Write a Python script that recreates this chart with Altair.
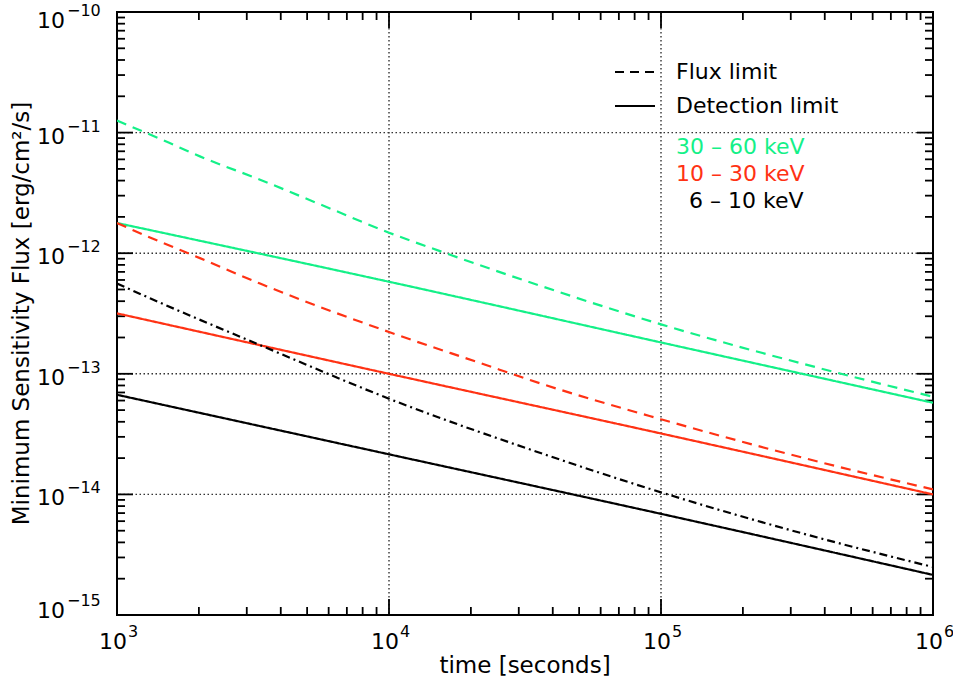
import altair as alt
import pandas as pd

# ---------------- data ----------------
# detection limits (straight lines in log-log)
t_det = [1e3, 1e4, 1e5, 1e6]
det_30_60 = [1.78e-12, 5.8e-13, 1.82e-13, 5.75e-14]
det_10_30 = [3.17e-13, 1.0e-13, 3.2e-14, 1.0e-14]
det_6_10 = [6.7e-14, 2.15e-14, 6.9e-15, 2.15e-15]

# flux limits (curved)
t_flux_30_60 = [1000, 1540, 2018, 3357, 6066, 10000, 15400, 35900, 100000, 385000, 1000000]
flux_30_60 = [1.26e-11, 8.3e-12, 6.35e-12, 4.07e-12, 2.35e-12, 1.48e-12, 1.04e-12, 5.38e-13, 2.57e-13, 1.11e-13, 6.45e-14]
t_flux_10_30 = [1000, 1322, 2018, 3357, 10000, 21600, 35900, 100000, 385000, 1000000]
flux_10_30 = [1.78e-12, 1.35e-12, 9.1e-13, 5.6e-13, 2.22e-13, 1.23e-13, 8.34e-14, 4.2e-14, 1.85e-14, 1.1e-14]
t_flux_6_10 = [1000, 1322, 3357, 10670, 34900, 100000, 385000, 1000000]
flux_6_10 = [5.6e-13, 4.23e-13, 1.73e-13, 5.87e-14, 2.26e-14, 1.04e-14, 4.33e-15, 2.5e-15]

band_labels = ["30 – 60 keV", "10 – 30 keV", "6 – 10 keV"]
legend_styles = ["Flux limit", "Detection limit"]

x_major = [1e3, 1e4, 1e5, 1e6]
x_minor = [k * 10 ** e for e in (3, 4, 5) for k in range(2, 10)]
y_major = [1e-15, 1e-14, 1e-13, 1e-12, 1e-11, 1e-10]
y_minor = [k * 10.0 ** e for e in (-15, -14, -13, -12, -11) for k in range(2, 10)]
x_exps = ["3", "4", "5", "6"]
y_exps = ["−15", "−14", "−13", "−12", "−11", "−10"]
x_grid = [1e4, 1e5]
y_grid = [1e-14, 1e-13, 1e-12, 1e-11]

x_title = "time [seconds]"
y_title = "Minimum Sensitivity Flux [erg/cm²/s]"

# ---------------- styling ----------------
FONT = "DejaVu Sans"
GREEN = "#14f088"
RED = "#ff3214"
BLACK = "#000000"
band_colors = [GREEN, RED, BLACK]
W, H = 816, 603

rows = []
series_defs = [
    ("d1", band_labels[0], "solid", t_det, det_30_60),
    ("d2", band_labels[1], "solid", t_det, det_10_30),
    ("d3", band_labels[2], "solid", t_det, det_6_10),
    ("f1", band_labels[0], "dash", t_flux_30_60, flux_30_60),
    ("f2", band_labels[1], "dash", t_flux_10_30, flux_10_30),
    ("f3", band_labels[2], "dashdot", t_flux_6_10, flux_6_10),
]
for sid, band, style, ts, vs in series_defs:
    for t, v in zip(ts, vs):
        rows.append({"t": t, "flux": v, "series": sid, "band": band, "style": style})
df = pd.DataFrame(rows)

xscale = alt.Scale(type="log", domain=[1e3, 1e6], nice=False)
yscale = alt.Scale(type="log", domain=[1e-15, 1e-10], nice=False)

lines = alt.Chart(df).mark_line(strokeWidth=2.2, clip=True, interpolate="monotone").encode(
    x=alt.X("t:Q", scale=xscale, axis=None),
    y=alt.Y("flux:Q", scale=yscale, axis=None),
    color=alt.Color("band:N", scale=alt.Scale(domain=band_labels, range=band_colors), legend=None),
    strokeDash=alt.StrokeDash("style:N", scale=alt.Scale(domain=["dash", "dashdot", "solid"],
                                                          range=[[10, 7], [8, 4, 2, 4], [1, 0]]), legend=None),
    detail="series:N",
    order="t:Q",
)

GRID = dict(color="#333333", strokeWidth=1.4, strokeDash=[1.5, 2.5])
xgrid = alt.Chart(pd.DataFrame({"v": x_grid})).mark_rule(**GRID).encode(
    x=alt.X("v:Q", scale=xscale, axis=None))
ygrid = alt.Chart(pd.DataFrame({"v": y_grid})).mark_rule(**GRID).encode(
    y=alt.Y("v:Q", scale=yscale, axis=None))

def xticks(vals, y0, y1):
    return alt.Chart(pd.DataFrame({"v": vals})).mark_rule(color="black", strokeWidth=1.8).encode(
        x=alt.X("v:Q", scale=xscale, axis=None), y=alt.value(y0), y2=alt.value(y1))

def yticks(vals, x0, x1):
    return alt.Chart(pd.DataFrame({"v": vals})).mark_rule(color="black", strokeWidth=1.8).encode(
        y=alt.Y("v:Q", scale=yscale, axis=None), x=alt.value(x0), x2=alt.value(x1))

MAJ, MIN = 16, 8
ticks = [
    xticks(x_major, H, H - MAJ), xticks(x_minor, H, H - MIN),
    xticks(x_major, 0, MAJ), xticks(x_minor, 0, MIN),
    yticks(y_major, 0, MAJ), yticks(y_minor, 0, MIN),
    yticks(y_major, W, W - MAJ), yticks(y_minor, W, W - MIN),
]

# tick labels: "10" with superscript exponent
xl = pd.DataFrame({"v": x_major, "e": x_exps})
xlab_base = alt.Chart(xl).mark_text(font=FONT, fontSize=22, align="right", baseline="middle", dx=10).encode(
    x=alt.X("v:Q", scale=xscale, axis=None), y=alt.value(H + 27), text=alt.value("10"))
xlab_exp = alt.Chart(xl).mark_text(font=FONT, fontSize=16, align="left", baseline="middle", dx=11).encode(
    x=alt.X("v:Q", scale=xscale, axis=None), y=alt.value(H + 17), text="e:N")

yl_low = pd.DataFrame({"v": y_major[:1], "e": y_exps[:1]})
yl_main = pd.DataFrame({"v": y_major[1:-1], "e": y_exps[1:-1]})
yl_top = pd.DataFrame({"v": y_major[-1:], "e": y_exps[-1:]})

def ylabels(d, shift):
    base = alt.Chart(d).mark_text(font=FONT, fontSize=22, align="left", baseline="middle", dy=4 + shift).encode(
        y=alt.Y("v:Q", scale=yscale, axis=None), x=alt.value(-80), text=alt.value("10"))
    exp = alt.Chart(d).mark_text(font=FONT, fontSize=16, align="left", baseline="middle", dy=-6 + shift).encode(
        y=alt.Y("v:Q", scale=yscale, axis=None), x=alt.value(-50), text="e:N")
    return [base, exp]

ylabs = ylabels(yl_main, 0) + ylabels(yl_low, -8) + ylabels(yl_top, 5)

# axis titles
one = pd.DataFrame({"a": [0]})
xt = alt.Chart(one).mark_text(font=FONT, fontSize=23, align="center", baseline="middle").encode(
    x=alt.value(W / 2), y=alt.value(H + 51), text=alt.value(x_title))
yt = alt.Chart(one).mark_text(font=FONT, fontSize=23, align="center", baseline="middle", angle=270).encode(
    x=alt.value(-95), y=alt.value(H / 2), text=alt.value(y_title))

# in-plot legend
LEG = 22
leg_dash = alt.Chart(one).mark_rule(color="black", strokeWidth=2, strokeDash=[9, 6]).encode(
    x=alt.value(498), x2=alt.value(538), y=alt.value(60))
leg_solid = alt.Chart(one).mark_rule(color="black", strokeWidth=2).encode(
    x=alt.value(498), x2=alt.value(538), y=alt.value(94))
leg_txt1 = alt.Chart(one).mark_text(font=FONT, fontSize=LEG, align="left", baseline="middle").encode(
    x=alt.value(559), y=alt.value(60), text=alt.value(legend_styles[0]))
leg_txt2 = alt.Chart(one).mark_text(font=FONT, fontSize=LEG, align="left", baseline="middle").encode(
    x=alt.value(559), y=alt.value(94), text=alt.value(legend_styles[1]))
leg_b1 = alt.Chart(one).mark_text(font=FONT, fontSize=LEG, align="left", baseline="middle", color=GREEN).encode(
    x=alt.value(559), y=alt.value(135), text=alt.value(band_labels[0]))
leg_b2 = alt.Chart(one).mark_text(font=FONT, fontSize=LEG, align="left", baseline="middle", color=RED).encode(
    x=alt.value(559), y=alt.value(162), text=alt.value(band_labels[1]))
leg_b3 = alt.Chart(one).mark_text(font=FONT, fontSize=LEG, align="left", baseline="middle", color=BLACK).encode(
    x=alt.value(572), y=alt.value(189), text=alt.value(band_labels[2]))

chart = alt.layer(
    xgrid, ygrid, *ticks, lines,
    xlab_base, xlab_exp, *ylabs, xt, yt,
    leg_dash, leg_solid, leg_txt1, leg_txt2, leg_b1, leg_b2, leg_b3,
).properties(
    width=W, height=H,
    padding={"left": 117, "top": 12, "right": 20, "bottom": 71},
    autosize=alt.AutoSizeParams(type="none"),
    background="white",
).configure_view(stroke="black", strokeWidth=2)

chart.save("out.html", embed_options={"renderer": "svg", "actions": False})
